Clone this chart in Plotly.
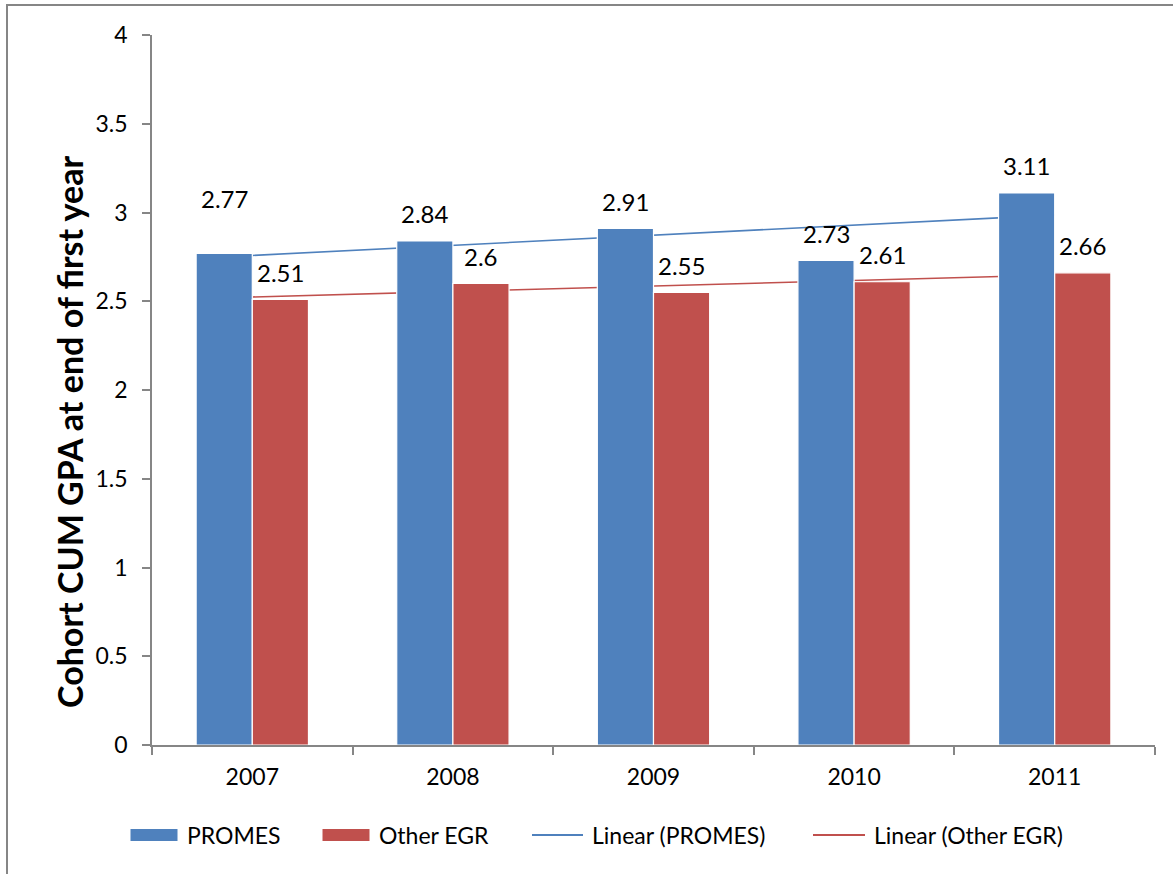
import numpy as np
import plotly.graph_objects as go

years = ["2007", "2008", "2009", "2010", "2011"]
promes = [2.77, 2.84, 2.91, 2.73, 3.11]
other_egr = [2.51, 2.60, 2.55, 2.61, 2.66]
y_ticks = [0, 0.5, 1, 1.5, 2, 2.5, 3, 3.5, 4]

BLUE = "#4F81BD"
RED = "#C0504D"
AXIS = "#868686"
FONT = "Lato"

W, H = 1173, 874
ML, MR, MT, MB = 152, 18, 35, 129
PW, PH = W - ML - MR, H - MT - MB


def px(x):
    return (x - ML) / PW


def py(y):
    return (H - MB - y) / PH


idx = np.arange(len(years))
fit_p = np.polyval(np.polyfit(idx, promes, 1), idx)
fit_o = np.polyval(np.polyfit(idx, other_egr, 1), idx)

fig = go.Figure()

# trend lines on base axes (drawn underneath the bars)
fig.add_trace(go.Scatter(x=years, y=fit_p, mode="lines", name="Linear (PROMES)",
                         line=dict(color=BLUE, width=1.6), xaxis="x", yaxis="y"))
fig.add_trace(go.Scatter(x=years, y=fit_o, mode="lines", name="Linear (Other EGR)",
                         line=dict(color=RED, width=1.6), xaxis="x", yaxis="y"))

# bars on overlay axes so they sit on top of the trend lines
fig.add_trace(go.Bar(x=years, y=promes, name="PROMES",
                     marker=dict(color=BLUE, line=dict(color="white", width=1.2)),
                     xaxis="x2", yaxis="y2"))
fig.add_trace(go.Bar(x=years, y=other_egr, name="Other EGR",
                     marker=dict(color=RED, line=dict(color="white", width=1.2)),
                     xaxis="x2", yaxis="y2"))


def fmt(v):
    return f"{v:g}"


annotations = []
extra_shift = {("PROMES", "2007"): 28}
for series, vals, xs in (("PROMES", promes, -28), ("Other EGR", other_egr, 28)):
    for i, (yr, v) in enumerate(zip(years, vals)):
        annotations.append(dict(
            x=i, y=v, xref="x", yref="y", text=fmt(v), showarrow=False,
            xshift=xs, yshift=27 + extra_shift.get((series, yr), 0),
            xanchor="center", yanchor="middle",
            font=dict(family=FONT, size=24, color="black")))

annotations.append(dict(
    x=px(70), y=py(432), xref="paper", yref="paper",
    text="<b>Cohort CUM GPA at end of first year</b>",
    textangle=-90, showarrow=False, xanchor="center", yanchor="middle",
    font=dict(family=FONT, size=34, color="black")))

# custom legend (Excel style)
shapes = []
legend_items = [
    ("rect", BLUE, 130, 178, "PROMES", 185),
    ("rect", RED, 322, 370, "Other EGR", 377),
    ("line", BLUE, 532, 583, "Linear (PROMES)", 590),
    ("line", RED, 813, 865, "Linear (Other EGR)", 872),
]
LY = 835
for kind, col, x0, x1, label, tx in legend_items:
    if kind == "rect":
        shapes.append(dict(type="rect", xref="paper", yref="paper",
                           x0=px(x0), x1=px(x1), y0=py(LY + 6.5), y1=py(LY - 6.5),
                           fillcolor=col, line=dict(color="white", width=1)))
    else:
        shapes.append(dict(type="line", xref="paper", yref="paper",
                           x0=px(x0), x1=px(x1), y0=py(LY), y1=py(LY),
                           line=dict(color=col, width=1.8)))
    annotations.append(dict(x=px(tx), y=py(LY), xref="paper", yref="paper", text=label,
                            showarrow=False, xanchor="left", yanchor="middle",
                            font=dict(family=FONT, size=23, color="black")))

# outer chart frame
shapes.append(dict(type="rect", xref="paper", yref="paper", x0=px(7), y0=py(H + 50),
                   x1=px(W + 50), y1=py(5), line=dict(color=AXIS, width=2),
                   fillcolor="rgba(0,0,0,0)", layer="below"))

axis_common = dict(showgrid=False, zeroline=False, showline=True, linecolor=AXIS, linewidth=1.5,
                   ticks="outside", ticklen=8, tickcolor=AXIS, tickwidth=1.5,
                   tickfont=dict(family=FONT, size=23, color="black"))

fig.update_layout(
    width=W, height=H,
    margin=dict(l=ML, r=MR, t=MT, b=MB),
    paper_bgcolor="white", plot_bgcolor="white",
    barmode="group", bargap=0.44, bargroupgap=0.0,
    font=dict(family=FONT, size=23, color="black"),
    showlegend=False,
    xaxis=dict(type="category", categoryorder="array", categoryarray=years, range=[-0.5, 4.5],
               tickson="boundaries", ticklabelstandoff=11, **axis_common),
    yaxis=dict(range=[0, 4], tickvals=y_ticks, ticktext=[fmt(t) for t in y_ticks],
               ticklabelstandoff=10, **axis_common),
    xaxis2=dict(type="category", categoryorder="array", categoryarray=years, range=[-0.5, 4.5],
                overlaying="x", visible=False),
    yaxis2=dict(range=[0, 4], overlaying="y", visible=False),
    annotations=annotations,
    shapes=shapes,
)

fig.write_html("out.html")
